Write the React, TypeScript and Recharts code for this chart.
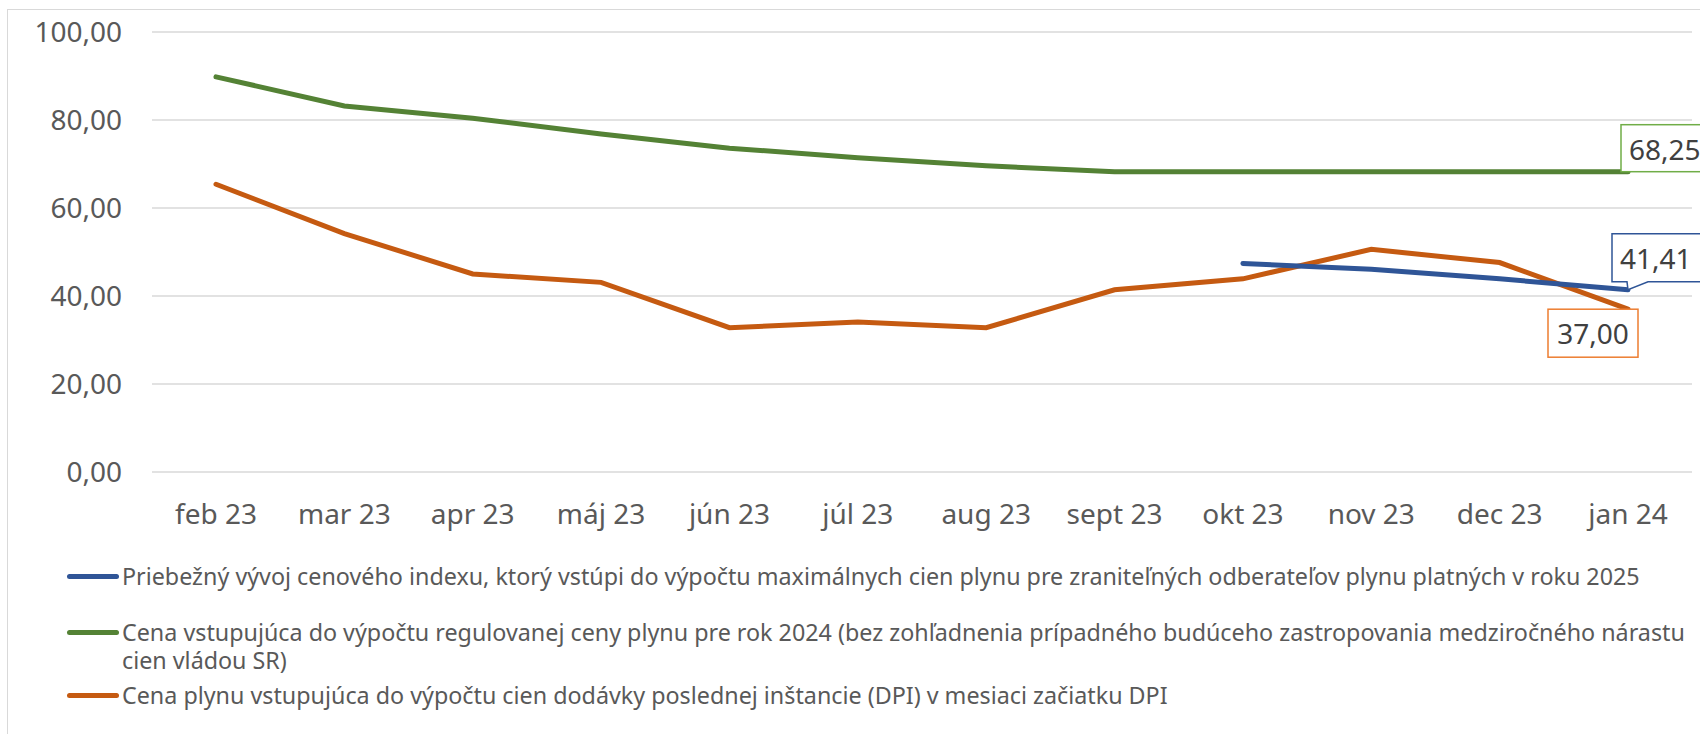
import { CartesianGrid, LabelList, Legend, Line, LineChart, XAxis, YAxis } from "recharts";

const months = [
  "feb 23", "mar 23", "apr 23", "máj 23", "jún 23", "júl 23",
  "aug 23", "sept 23", "okt 23", "nov 23", "dec 23", "jan 24",
];
const indexValues = [null, null, null, null, null, null, null, null, 47.4, 46.1, 43.9, 41.41];
const regulatedValues = [89.8, 83.2, 80.4, 76.8, 73.6, 71.4, 69.6, 68.25, 68.25, 68.25, 68.25, 68.25];
const dpiValues = [65.4, 54.2, 45.0, 43.1, 32.8, 34.1, 32.8, 41.4, 43.9, 50.6, 47.6, 37.0];
const yTicks = [0, 20, 40, 60, 80, 100];

const seriesNames = [
  "Priebežný vývoj cenového indexu, ktorý vstúpi do výpočtu maximálnych cien plynu pre zraniteľných odberateľov plynu platných v roku 2025",
  "Cena vstupujúca do výpočtu regulovanej ceny plynu pre rok 2024 (bez zohľadnenia prípadného budúceho zastropovania medziročného nárastu cien vládou SR)",
  "Cena plynu vstupujúca do výpočtu cien dodávky poslednej inštancie (DPI) v mesiaci začiatku DPI",
];

const data = months.map((m, i) => ({
  m,
  index: indexValues[i],
  regulated: regulatedValues[i],
  dpi: dpiValues[i],
}));

const BLUE = "#2F5597";
const GREEN = "#548235";
const ORANGE = "#C55A11";
const TEXT = "#595959";
const FONT = "'Noto Sans', sans-serif";

const fmt = (v: number) => v.toFixed(2).replace(".", ",");

function lastOnly(render: (x: number, y: number, v: number) => any) {
  return (props: any) => {
    if (props.index !== months.length - 1 || props.value == null) return null;
    return render(Number(props.x), Number(props.y), Number(props.value));
  };
}

const greenLabel = lastOnly((x, y, v) => (
  <g>
    <rect x={x - 7} y={y - 47} width={95} height={47} fill="#fff" stroke="#70AD47" strokeWidth={1.5} />
    <text x={x + 1} y={y - 23} dominantBaseline="central" fontSize={28} fill="#404040" fontFamily={FONT}>
      {fmt(v)}
    </text>
  </g>
));

const blueLabel = lastOnly((x, y, v) => (
  <g>
    <path
      d={`M${x - 16},${y - 56} H${x + 90} V${y - 8} H${x + 20} L${x},${y} L${x - 1},${y - 8} H${x - 16} Z`}
      fill="#fff"
      stroke={BLUE}
      strokeWidth={1.5}
    />
    <text x={x - 8} y={y - 32} dominantBaseline="central" fontSize={28} fill="#404040" fontFamily={FONT}>
      {fmt(v)}
    </text>
  </g>
));

const orangeLabel = lastOnly((x, y, v) => (
  <g>
    <rect x={x - 80} y={y} width={90} height={48} fill="#fff" stroke="#ED7D31" strokeWidth={1.5} />
    <text x={x - 35} y={y + 24} textAnchor="middle" dominantBaseline="central" fontSize={28} fill="#404040" fontFamily={FONT}>
      {fmt(v)}
    </text>
  </g>
));

const legendColors = [BLUE, GREEN, ORANGE];
const legendTops = [562, 618, 681];

function LegendBox() {
  return (
    <div style={{ position: "relative", width: 1700, height: 174, fontFamily: FONT }}>
      {seriesNames.map((name, i) => (
        <div key={name} style={{ position: "absolute", left: 67, top: legendTops[i] - 560, display: "flex", alignItems: "flex-start" }}>
          <div style={{ width: 52, height: 5, background: legendColors[i], borderRadius: 3, marginTop: 12, flex: "none" }} />
          <div style={{ width: 1577, marginLeft: 3, fontSize: 23.3, lineHeight: "28px", color: TEXT }}>{name}</div>
        </div>
      ))}
    </div>
  );
}

export default function App() {
  return (
    <div style={{ position: "relative", width: 1700, height: 734, overflow: "hidden", background: "#fff" }}>
      <style>{`body{margin:0}`}</style>
      <div style={{ position: "absolute", left: 7, top: 9, width: 1720, height: 760, border: "1.5px solid #d9d9d9" }} />
      <LineChart width={1700} height={734} data={data} margin={{ top: 32, right: 8, left: 0, bottom: 202 }}>
        <CartesianGrid vertical={false} stroke="#d9d9d9" strokeWidth={1.5} />
        <XAxis
          dataKey="m"
          axisLine={false}
          tickLine={false}
          tickSize={0}
          tickMargin={32}
          height={60}
          interval={0}
          padding={{ left: 64, right: 64 }}
          tick={{ fill: TEXT, fontSize: 28, fontFamily: FONT }}
        />
        <YAxis
          domain={[0, 100]}
          ticks={yTicks}
          tickFormatter={fmt}
          axisLine={false}
          tickLine={false}
          tickSize={0}
          tickMargin={30}
          width={152}
          tick={{ fill: TEXT, fontSize: 28, fontFamily: FONT }}
        />
        <Legend layout="vertical" align="center" verticalAlign="middle" wrapperStyle={{ left: 0, top: 560, width: 1700 }} content={() => <LegendBox />} />
        <Line dataKey="regulated" name={seriesNames[1]} stroke={GREEN} strokeWidth={5} dot={false} strokeLinecap="round" isAnimationActive={false}>
          <LabelList dataKey="regulated" content={greenLabel} />
        </Line>
        <Line dataKey="dpi" name={seriesNames[2]} stroke={ORANGE} strokeWidth={5} dot={false} strokeLinecap="round" isAnimationActive={false}>
          <LabelList dataKey="dpi" content={orangeLabel} />
        </Line>
        <Line dataKey="index" name={seriesNames[0]} stroke={BLUE} strokeWidth={5} dot={false} strokeLinecap="round" isAnimationActive={false}>
          <LabelList dataKey="index" content={blueLabel} />
        </Line>
      </LineChart>
    </div>
  );
}
